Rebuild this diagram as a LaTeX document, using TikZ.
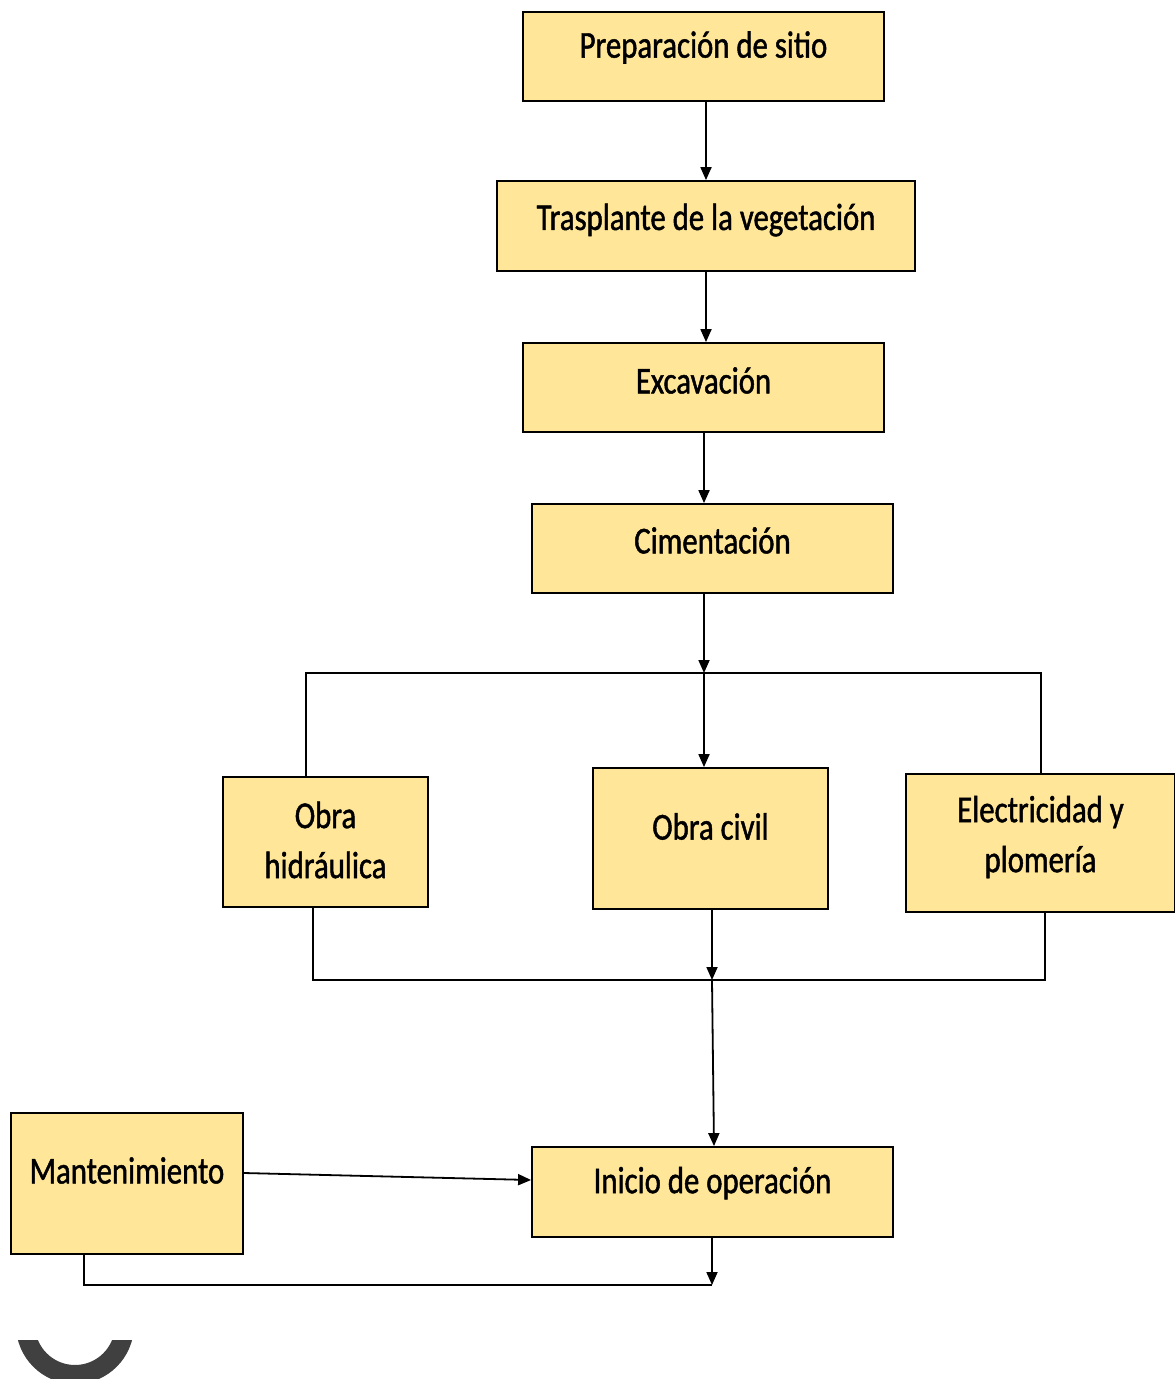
\documentclass[tikz,border=0pt]{standalone}
\usepackage{fontspec}
\setmainfont{Carlito}[FakeStretch=0.81, FakeBold=1.2]
\usetikzlibrary{arrows.meta}
\definecolor{boxfill}{HTML}{FFE699}
\definecolor{arcgray}{HTML}{404040}
\tikzset{
  box/.style={draw=black, line width=1.8pt, fill=boxfill, inner sep=0pt},
  txt/.style={font=\fontsize{38}{50}\selectfont, align=center, text=black},
  conn/.style={line width=1.8pt, draw=black},
  arr/.style={conn, -{Triangle[length=13pt,width=11pt]}},
}
\begin{document}
\begin{tikzpicture}[x=1pt,y=-1pt]
\useasboundingbox (0,0) rectangle (1175,1379);
\fill[white] (0,0) rectangle (1175,1379);

% boxes
\node[box, minimum width=361pt, minimum height=89pt,
  label={[txt, yshift=9pt]center:Preparación de sitio}] (b1) at (703.5,56.5) {};
\node[box, minimum width=418pt, minimum height=90pt,
  label={[txt, yshift=6pt]center:Trasplante de la vegetación}] (b2) at (706,226) {};
\node[box, minimum width=361pt, minimum height=89pt,
  label={[txt, yshift=7pt]center:Excavación}] (b3) at (703.5,387.5) {};
\node[box, minimum width=361pt, minimum height=89pt,
  label={[txt, yshift=8pt]center:Cimentación}] (b4) at (712.5,548.5) {};
\node[box, minimum width=205pt, minimum height=130pt,
  label={[txt, yshift=2pt]center:Obra\\hidráulica}] (b5) at (325.5,842) {};
\node[box, minimum width=235pt, minimum height=141pt,
  label={[txt, yshift=12pt]center:Obra civil}] (b6) at (710.5,838.5) {};
\node[box, minimum width=269pt, minimum height=138pt,
  label={[txt, yshift=6pt]center:Electricidad y\\plomería}] (b7) at (1040.5,843) {};
\node[box, minimum width=232pt, minimum height=141pt,
  label={[txt, yshift=13pt]center:Mantenimiento}] (b8) at (127,1183.5) {};
\node[box, minimum width=361pt, minimum height=90pt,
  label={[txt, yshift=9pt]center:Inicio de operación}] (b9) at (712.5,1192) {};

% junction points
\coordinate (j1) at (704,673);
\coordinate (jl) at (306,673);
\coordinate (jr) at (1041,673);
\coordinate (kl) at (313,980);
\coordinate (kr) at (1045,980);
\coordinate (k1) at (712,980);
\coordinate (m1) at (712,1285);
\coordinate (ml) at (84,1285);

% connectors
\draw[arr] (b2.north |- b1.south) -- (b2.north);
\draw[arr] (b2.south) -- (b2.south |- b3.north);
\draw[arr] (b3.south -| j1) -- (b4.north -| j1);
\draw[arr] (b4.south -| j1) -- (j1);
\draw[conn] (b5.north -| jl) -- (jl) -- (jr) -- (b7.north -| jr);
\draw[arr] (j1) -- (j1 |- b6.north);
\draw[conn] (b5.south -| kl) -- (kl) -- (kr) -- (b7.south -| kr);
\draw[arr] (b6.south -| k1) -- (k1);
\draw[arr] (k1) -- ([xshift=1.5pt]b9.north);
\draw[arr] ([yshift=10.5pt]b8.east) -- ([yshift=12pt]b9.west);
\draw[arr] (b9.south -| m1) -- (m1);
\draw[conn] (b8.south -| ml) -- (ml) -- (m1);

% partial ring at the bottom left
\begin{scope}
  \clip (0,1340) rectangle (200,1379);
  \draw[arcgray, line width=19pt] (75,1325) circle[radius=49.5pt];
\end{scope}
\end{tikzpicture}
\end{document}
